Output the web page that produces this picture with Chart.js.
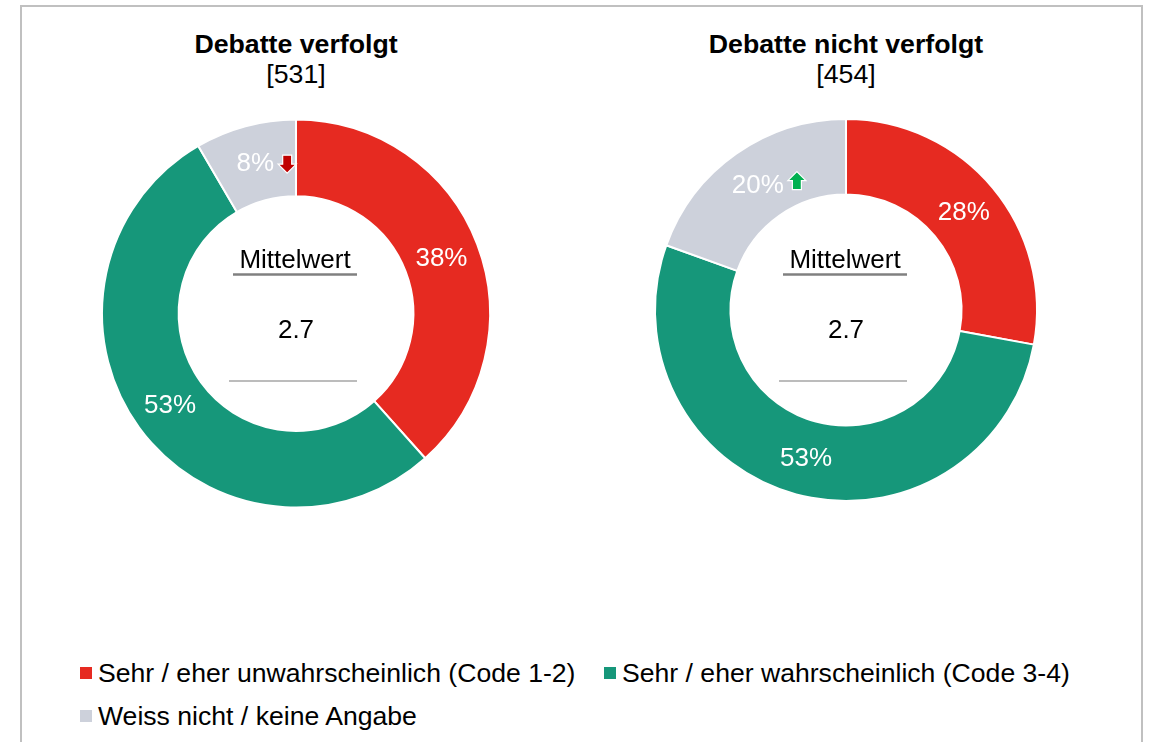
<!DOCTYPE html>
<html>
<head>
<meta charset="utf-8">
<script src="https://cdn.jsdelivr.net/npm/chart.js@4"></script>
<style>
  html, body { margin: 0; padding: 0; background: #fff; }
  body { width: 1150px; height: 742px; position: relative; overflow: hidden; font-family: Arial, "Liberation Sans", sans-serif; color: #000; }
  #rahmen { position: absolute; left: 20px; top: 5px; width: 1123px; height: 800px; border: 2px solid #c0c0c0; box-sizing: border-box; }
  canvas { position: absolute; top: 0; }
  .titel { position: absolute; width: 500px; text-align: center; font-size: 26.7px; line-height: 30px; }
  .titel b { display: block; }
  .leg { position: absolute; font-size: 26.6px; line-height: 30px; white-space: nowrap; }
  .leg i { position: absolute; left: -18px; top: 9px; width: 12px; height: 12px; }
</style>
</head>
<body>
<div id="rahmen"></div>
<div class="titel" style="left:46px; top:29px;"><b id="t0"></b><span id="n0"></span></div>
<div class="titel" style="left:596px; top:29px;"><b id="t1"></b><span id="n1"></span></div>
<canvas id="chartVerfolgt" width="560" height="620" style="left:0"></canvas>
<canvas id="chartNicht" width="580" height="620" style="left:560px"></canvas>
<div id="legende"></div>

<script>
const kategorien = ["Sehr / eher unwahrscheinlich (Code 1-2)", "Sehr / eher wahrscheinlich (Code 3-4)", "Weiss nicht / keine Angabe"];
const farben = ["#e62a21", "#16977a", "#cdd1db"];

const titel = ["Debatte verfolgt", "Debatte nicht verfolgt"];
const fallzahlen = [531, 454];
const mittelwerte = [2.7, 2.7];

const werteVerfolgt = [38.4, 53.2, 8.4];
const werteNichtVerfolgt = [27.9, 52.6, 19.5];

// Pfeile neben den Labels (signifikante Unterschiede)
const pfeileVerfolgt = [null, null, "down"];
const pfeileNichtVerfolgt = [null, null, "up"];

titel.forEach((t, i) => {
  document.getElementById("t" + i).textContent = t;
  document.getElementById("n" + i).textContent = "[" + fallzahlen[i] + "]";
});

// Legende
const legPos = [[98, 658], [622, 658], [98, 701]];
const leg = document.getElementById("legende");
kategorien.forEach((k, i) => {
  const div = document.createElement("div");
  div.className = "leg";
  div.style.left = legPos[i][0] + "px";
  div.style.top = legPos[i][1] + "px";
  div.innerHTML = `<i style="background:${farben[i]}"></i>${k}`;
  leg.appendChild(div);
});

function pfeil(ctx, x, y, richtung) {
  const s = richtung === "up" ? -1 : 1;
  ctx.beginPath();
  ctx.moveTo(x - 4.5, y - s * 9);
  ctx.lineTo(x + 4.5, y - s * 9);
  ctx.lineTo(x + 4.5, y);
  ctx.lineTo(x + 9, y);
  ctx.lineTo(x, y + s * 9);
  ctx.lineTo(x - 9, y);
  ctx.lineTo(x - 4.5, y);
  ctx.closePath();
  ctx.fillStyle = richtung === "up" ? "#00b050" : "#c00000";
  ctx.fill();
  ctx.strokeStyle = "#fff";
  ctx.lineWidth = 1.2;
  ctx.stroke();
}

const beschriftung = {
  id: "beschriftung",
  afterDatasetsDraw(chart, args, opts) {
    const ctx = chart.ctx;
    const meta = chart.getDatasetMeta(0);
    const werte = chart.data.datasets[0].data;
    ctx.save();
    ctx.font = "26px Arial, 'Liberation Sans', sans-serif";
    ctx.fillStyle = "#fff";
    ctx.textAlign = "center";
    ctx.textBaseline = "middle";
    meta.data.forEach((arc, i) => {
      const p = arc.tooltipPosition();
      const txt = Math.round(werte[i]) + "%";
      ctx.fillStyle = "#fff";
      ctx.fillText(txt, p.x, p.y + 1);
      if (opts.pfeile[i]) {
        const w = ctx.measureText(txt).width;
        pfeil(ctx, p.x + w / 2 + 13, p.y + (opts.pfeile[i] === "up" ? -4 : 1), opts.pfeile[i]);
      }
    });
    // Mittelwert in der Mitte
    const cx = meta.data[0].x;
    ctx.fillStyle = "#000";
    ctx.textBaseline = "alphabetic";
    ctx.fillText("Mittelwert", cx - 1, 268);
    ctx.fillText(String(opts.mittelwert), cx, 338);
    ctx.strokeStyle = "#808080";
    ctx.lineWidth = 2.5;
    ctx.beginPath();
    ctx.moveTo(cx - 63, 274.5);
    ctx.lineTo(cx + 61, 274.5);
    ctx.stroke();
    ctx.strokeStyle = "#a6a6a6";
    ctx.lineWidth = 1.5;
    ctx.beginPath();
    ctx.moveTo(cx - 67, 381);
    ctx.lineTo(cx + 61, 381);
    ctx.stroke();
    ctx.restore();
  }
};

function donut(id, werte, pfeile, mittelwert, radius, padding) {
  return new Chart(document.getElementById(id), {
    type: "doughnut",
    data: {
      labels: kategorien,
      datasets: [{
        data: werte,
        backgroundColor: farben,
        borderColor: "#fff",
        borderWidth: 2
      }]
    },
    options: {
      responsive: false,
      animation: false,
      events: [],
      radius: radius,
      cutout: "60.5%",
      layout: { padding: padding },
      plugins: {
        legend: { display: false },
        tooltip: { enabled: false },
        beschriftung: { pfeile: pfeile, mittelwert: mittelwert }
      }
    },
    plugins: [beschriftung]
  });
}

donut("chartVerfolgt", werteVerfolgt, pfeileVerfolgt, mittelwerte[0], 194, { left: 32, top: 7, right: 0, bottom: 0 });
donut("chartNicht", werteNichtVerfolgt, pfeileNichtVerfolgt, mittelwerte[1], 191, { left: 0, top: 0, right: 8, bottom: 0 });
</script>
</body>
</html>
